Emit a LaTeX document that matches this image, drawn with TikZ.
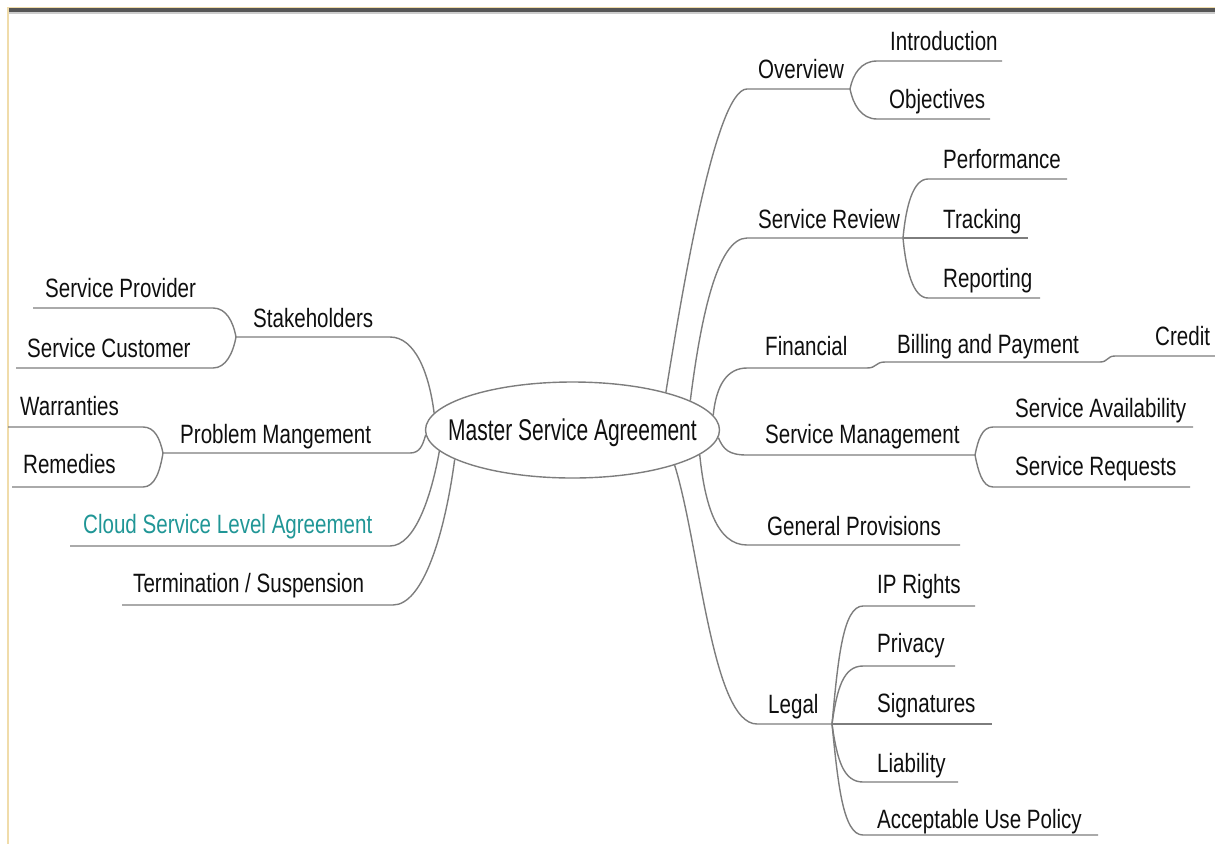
\documentclass[tikz,border=0pt]{standalone}
\usepackage{fontspec}
\setmainfont[FakeStretch=0.776]{Liberation Sans}
\newfontfamily\msafont[FakeStretch=0.70]{Liberation Sans}
\usetikzlibrary{shapes.geometric,calc,positioning}

\definecolor{linegray}{RGB}{125,125,125}
\definecolor{textblack}{RGB}{15,15,15}
\definecolor{cloudteal}{RGB}{32,150,150}
\definecolor{bargray}{RGB}{85,85,85}
\definecolor{edgetan}{RGB}{240,220,170}

\tikzset{
  lbl/.style={anchor=base west, inner sep=0pt, text=textblack, font=\fontsize{26.5}{30}\selectfont},
  branch/.style={draw=linegray, line width=1.4pt},
}

\begin{document}
\begin{tikzpicture}[x=1pt,y=1pt]
\useasboundingbox (0,0) rectangle (1215,-844);
% frame
\fill[edgetan] (7,-6.5) rectangle (1215,-7.5);
\fill[bargray] (8,-7.5) rectangle (1215,-12);
\fill[black!20] (8,-12) rectangle (1215,-13.5);
\draw[edgetan, line width=1.5pt] (8,-7) -- (8,-844);

% centre
\node[ellipse, draw=linegray, line width=1.4pt, minimum width=294, minimum height=96,
  inner sep=0pt] (msa) at (572.5,-430) {};
\node[inner sep=0pt, text depth=0pt, text=textblack, font={\msafont\fontsize{30}{34}\selectfont}]
  (msat) at (msa) {Master Service Agreement};

% right side labels
\node[lbl] (ovt) at (758,-78)  {Overview};
\node[lbl] (int) at (890,-50)  {Introduction};
\node[lbl] (obt) at (889,-108) {Objectives};
\node[lbl] (srt) at (758,-228) {Service Review};
\node[lbl] (pft) at (943,-168) {Performance};
\node[lbl] (trt) at (943,-228) {Tracking};
\node[lbl] (rpt) at (943,-287) {Reporting};
\node[lbl] (fit) at (765,-355) {Financial};
\node[lbl] (bpt) at (897,-353) {Billing and Payment};
\node[lbl] (crt) at (1155,-345) {Credit};
\node[lbl] (smt) at (765,-443) {Service Management};
\node[lbl] (sat) at (1015,-417) {Service Availability};
\node[lbl] (sqt) at (1015,-475) {Service Requests};
\node[lbl] (gpt) at (767,-535) {General Provisions};
\node[lbl] (lgt) at (768,-713) {Legal};
\node[lbl] (ipt) at (877,-593) {IP Rights};
\node[lbl] (pvt) at (877,-652) {Privacy};
\node[lbl] (sgt) at (877,-712) {Signatures};
\node[lbl] (lbt) at (877,-772) {Liability};
\node[lbl] (aut) at (877,-828) {Acceptable Use Policy};
% left side labels
\node[lbl] (skt) at (253,-327) {Stakeholders};
\node[lbl] (spt) at (45,-297)  {Service Provider};
\node[lbl] (sct) at (27,-357)  {Service Customer};
\node[lbl] (pmt) at (180,-443) {Problem Mangement};
\node[lbl] (wat) at (20,-415)  {Warranties};
\node[lbl] (ret) at (23,-473)  {Remedies};
\node[lbl, text=cloudteal] (cst) at (83,-533) {Cloud Service Level Agreement};
\node[lbl] (tst) at (133,-592) {Termination / Suspension};

% underline ends
\coordinate (ov1) at (747,-89);  \coordinate (ov2) at (850,-89);
\coordinate (in1) at (877,-61);  \coordinate (in2) at (1002,-61);
\coordinate (ob1) at (877,-119); \coordinate (ob2) at (990,-119);
\coordinate (sr1) at (747,-238); \coordinate (sr2) at (903,-238);
\coordinate (pf1) at (928,-179); \coordinate (pf2) at (1067,-179);
\coordinate (tr2) at (1028,-238);
\coordinate (rp1) at (928,-298); \coordinate (rp2) at (1040,-298);
\coordinate (fi1) at (747,-368); \coordinate (fi2) at (867,-368);
\coordinate (bp1) at (885,-362); \coordinate (bp2) at (1100,-362);
\coordinate (cr1) at (1115,-356); \coordinate (cr2) at (1215,-356);
\coordinate (sm1) at (747,-455); \coordinate (sm2) at (975,-455);
\coordinate (sa1) at (993,-427); \coordinate (sa2) at (1193,-427);
\coordinate (sq1) at (993,-487); \coordinate (sq2) at (1190,-487);
\coordinate (gp1) at (747,-545); \coordinate (gp2) at (960,-545);
\coordinate (lg1) at (757,-724); \coordinate (lg2) at (832,-724);
\coordinate (ip1) at (863,-606); \coordinate (ip2) at (975,-606);
\coordinate (pv1) at (863,-666); \coordinate (pv2) at (955,-666);
\coordinate (sg2) at (992,-724);
\coordinate (lb1) at (863,-782); \coordinate (lb2) at (958,-782);
\coordinate (au1) at (863,-835); \coordinate (au2) at (1098,-835);
\coordinate (sk1) at (390,-337); \coordinate (sk2) at (236,-337);
\coordinate (sp1) at (213,-308); \coordinate (sp2) at (33,-308);
\coordinate (sc1) at (213,-368); \coordinate (sc2) at (16,-368);
\coordinate (pm1) at (410,-453); \coordinate (pm2) at (163,-453);
\coordinate (wa1) at (143,-427); \coordinate (wa2) at (8,-427);
\coordinate (re1) at (143,-487); \coordinate (re2) at (12,-487);
\coordinate (cs1) at (390,-546); \coordinate (cs2) at (70,-546);
\coordinate (ts1) at (393,-605); \coordinate (ts2) at (122,-605);

% main branches
\draw[branch] (msa.22) .. controls +(15,93) and +(-32,0) .. (ov1) -- (ov2);
\draw[branch] (msa.14) .. controls +(10,80) and +(-30,0) .. (sr1) -- (sr2);
\draw[branch] (msa.6) .. controls +(3,30) and +(-20,0) .. (fi1) -- (fi2);
\draw[branch] (msa.-3) .. controls +(5,-12) and +(-18,0) .. (sm1) -- (sm2);
\draw[branch] (msa.-11) .. controls +(5,-50) and +(-30,0) .. (gp1) -- (gp2);
\draw[branch] (msa.-19) .. controls +(25,-80) and +(-45,0) .. (lg1) -- (lg2);
\draw[branch] (msa.173) .. controls +(-5,40) and +(25,0) .. (sk1) -- (sk2);
\draw[branch] (msa.182) .. controls +(-3,-10) and +(10,0) .. (pm1) -- (pm2);
\draw[branch] (msa.189) .. controls +(-8,-45) and +(25,0) .. (cs1) -- (cs2);
\draw[branch] (msa.194) .. controls +(-10,-75) and +(30,0) .. (ts1) -- (ts2);

% sub branches
\draw[branch] (ov2) .. controls +(3,15) and +(-16,0) .. (in1) -- (in2);
\draw[branch] (ov2) .. controls +(3,-15) and +(-16,0) .. (ob1) -- (ob2);
\draw[branch] (sr2) .. controls +(3,32) and +(-15,0) .. (pf1) -- (pf2);
\draw[branch] (sr2) -- (tr2);
\draw[branch] (sr2) .. controls +(3,-32) and +(-15,0) .. (rp1) -- (rp2);
\draw[branch] (fi2) .. controls +(10,0) and +(-10,0) .. (bp1) -- (bp2);
\draw[branch] (bp2) .. controls +(8,0) and +(-8,0) .. (cr1) -- (cr2);
\draw[branch] (sm2) .. controls +(3,15) and +(-11,0) .. (sa1) -- (sa2);
\draw[branch] (sm2) .. controls +(3,-15) and +(-11,0) .. (sq1) -- (sq2);
\draw[branch] (lg2) .. controls +(6,65) and +(-20,0) .. (ip1) -- (ip2);
\draw[branch] (lg2) .. controls +(5,35) and +(-20,0) .. (pv1) -- (pv2);
\draw[branch] (lg2) -- (sg2);
\draw[branch] (lg2) .. controls +(5,-35) and +(-20,0) .. (lb1) -- (lb2);
\draw[branch] (lg2) .. controls +(6,-60) and +(-20,0) .. (au1) -- (au2);
\draw[branch] (sk2) .. controls +(-3,16) and +(13,0) .. (sp1) -- (sp2);
\draw[branch] (sk2) .. controls +(-3,-16) and +(13,0) .. (sc1) -- (sc2);
\draw[branch] (pm2) .. controls +(-3,14) and +(12,0) .. (wa1) -- (wa2);
\draw[branch] (pm2) .. controls +(-3,-18) and +(12,0) .. (re1) -- (re2);
\end{tikzpicture}
\end{document}
